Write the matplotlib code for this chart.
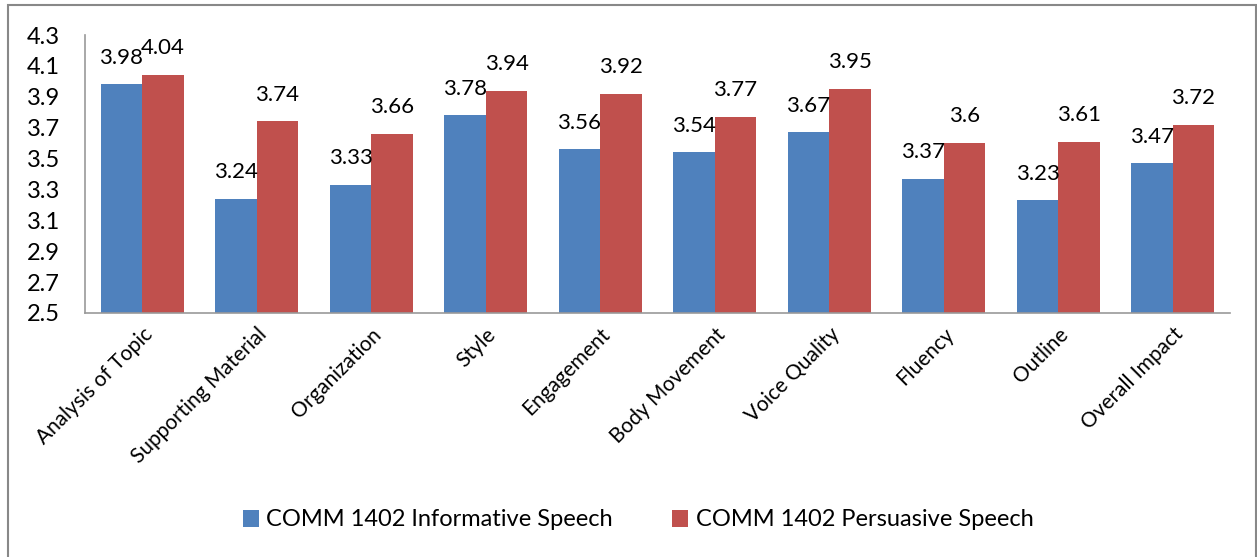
import numpy as np
import matplotlib.pyplot as plt
from matplotlib.patches import Rectangle

categories = ['Analysis of Topic', 'Supporting Material', 'Organization', 'Style',
              'Engagement', 'Body Movement', 'Voice Quality', 'Fluency', 'Outline',
              'Overall Impact']
informative = [3.98, 3.24, 3.33, 3.78, 3.56, 3.54, 3.67, 3.37, 3.23, 3.47]
persuasive = [4.04, 3.74, 3.66, 3.94, 3.92, 3.77, 3.95, 3.60, 3.61, 3.72]
informative_labels = ['3.98', '3.24', '3.33', '3.78', '3.56', '3.54', '3.67', '3.37', '3.23', '3.47']
persuasive_labels = ['4.04', '3.74', '3.66', '3.94', '3.92', '3.77', '3.95', '3.6', '3.61', '3.72']
y_ticks = [2.5, 2.7, 2.9, 3.1, 3.3, 3.5, 3.7, 3.9, 4.1, 4.3]

plt.rcParams['font.family'] = ['Lato', 'DejaVu Sans']

fig = plt.figure(figsize=(12.57, 5.57), dpi=100)
ax = fig.add_axes([85 / 1257, 1 - 313 / 557, (1230 - 85) / 1257, (313 - 35) / 557])

# outer chart border
fig.patches.append(Rectangle((8 / 1257, -0.01), (1256 - 8) / 1257, 1 - 5 / 557 + 0.01,
                             transform=fig.transFigure, fill=False,
                             edgecolor='#888888', linewidth=1.5))

x = np.arange(len(categories))
w = 0.3625
b1 = ax.bar(x - w / 2, np.array(informative) - 2.5, w, bottom=2.5, color='#4F81BD',
            label='COMM 1402 Informative Speech')
b2 = ax.bar(x + w / 2, np.array(persuasive) - 2.5, w, bottom=2.5, color='#C0504D',
            label='COMM 1402 Persuasive Speech')

for i in range(len(categories)):
    ax.annotate(informative_labels[i], (x[i] - w / 2, informative[i]), xytext=(0, 12),
                textcoords='offset points', ha='center', va='bottom', fontsize=16)
    ax.annotate(persuasive_labels[i], (x[i] + w / 2, persuasive[i]), xytext=(0, 12),
                textcoords='offset points', ha='center', va='bottom', fontsize=16)

ax.set_xlim(-0.5, len(categories) - 0.5)
ax.set_ylim(2.5, 4.3)
ax.set_yticks(y_ticks)
ax.set_yticklabels([f'{t:.1f}' for t in y_ticks], fontsize=17)
ax.set_xticks(x)
ax.set_xticklabels(categories, rotation=45, ha='right', rotation_mode='anchor', fontsize=15)
ax.tick_params(axis='y', length=0, pad=18)
ax.tick_params(axis='x', length=0, pad=8)

for s in ['top', 'right']:
    ax.spines[s].set_visible(False)
for s in ['left', 'bottom']:
    ax.spines[s].set_color('#999999')
    ax.spines[s].set_linewidth(1.2)

fig.legend(handles=[b1, b2], loc='center', bbox_to_anchor=(638 / 1257, 1 - 520 / 557),
           ncol=2, frameon=False, fontsize=17, handlelength=0.7, handleheight=0.7,
           columnspacing=2.5, handletextpad=0.3)

fig.savefig('out.png', dpi=100)
